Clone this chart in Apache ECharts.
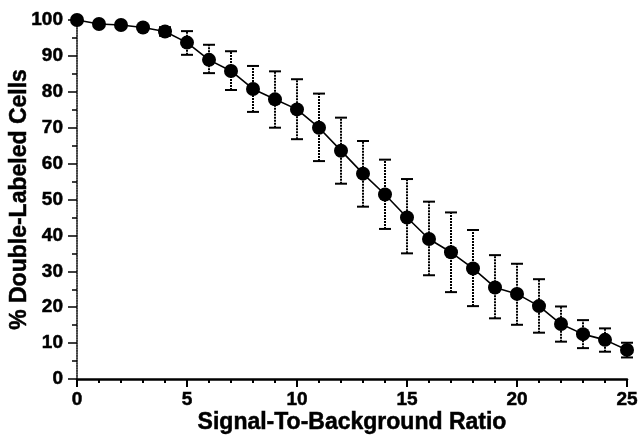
<!DOCTYPE html>
<html>
<head>
<meta charset="utf-8">
<script src="https://cdn.jsdelivr.net/npm/echarts@6/dist/echarts.min.js"></script>
<style>html,body{margin:0;padding:0;background:#fff;}#c{width:640px;height:435px;}</style>
</head>
<body>
<div id="c"></div>
<script>
const ratios = [0,1,2,3,4,5,6,7,8,9,10,11,12,13,14,15,16,17,18,19,20,21,22,23,24,25];
const pctDouble = [100,98.9,98.6,97.9,96.8,93.7,88.9,85.8,80.8,77.9,75.1,70.0,63.6,57.2,51.4,45.0,39.0,35.3,30.8,25.5,23.7,20.3,15.3,12.5,10.9,8.1];
const errLow = [100,98.9,98.6,97.9,95.6,90.3,85.2,80.5,74.4,70.0,66.8,60.7,54.4,48.0,41.8,35.0,28.9,24.2,20.3,16.9,15.1,12.9,10.4,8.6,7.6,6.0];
const errHigh = [100,98.9,98.6,97.9,98.0,96.9,93.1,91.3,87.2,85.7,83.5,79.5,72.8,66.3,61.1,55.7,49.4,46.4,41.5,34.5,32.1,27.8,20.2,16.4,14.1,10.1];
const xTitle = 'Signal-To-Background Ratio';
const yTitle = '% Double-Labeled Cells';

const font = "'Liberation Sans', Arial, sans-serif";
const chart = echarts.init(document.getElementById('c'), null, {renderer: 'canvas'});
const pts = ratios.map((r, i) => [r, pctDouble[i]]);
const errs = ratios.map((r, i) => [r, errLow[i], errHigh[i]]);
const txt = (size) => ({fontFamily: font, fontWeight: 'bold', fontSize: size, color: '#000', textBorderColor: '#000', textBorderWidth: 0.5});

chart.setOption({
  animation: false,
  backgroundColor: '#fff',
  grid: {left: 77, right: 13, top: 20, bottom: 56, containLabel: false, outerBoundsMode: 'none'},
  xAxis: {
    type: 'value', min: 0, max: 25, interval: 5,
    name: xTitle, nameLocation: 'middle', nameGap: 32, nameMoveOverlap: false,
    nameTextStyle: txt(23),
    axisLine: {onZero: false, lineStyle: {color: '#000', width: 2.5}},
    axisTick: {show: true, length: 8, lineStyle: {color: '#000', width: 2}},
    minorTick: {show: true, splitNumber: 5, length: 4, lineStyle: {color: '#000', width: 2}},
    axisLabel: Object.assign({margin: 11}, txt(19)),
    splitLine: {show: false}
  },
  yAxis: {
    type: 'value', min: 0, max: 100, interval: 10,
    name: yTitle, nameLocation: 'middle', nameGap: 46, nameRotate: 90, nameMoveOverlap: false,
    nameTextStyle: txt(23),
    axisLine: {show: true, onZero: false, lineStyle: {color: '#000', width: 1.5, type: [1.5, 1]}},
    axisTick: {show: true, length: 9, lineStyle: {color: '#000', width: 1.5}},
    minorTick: {show: true, splitNumber: 2, length: 5, lineStyle: {color: '#000', width: 1.5}},
    axisLabel: Object.assign({margin: 14}, txt(19)),
    splitLine: {show: false}
  },
  series: [
    {
      type: 'custom',
      data: errs,
      z: 1,
      renderItem: function (params, api) {
        const x = api.value(0);
        const lo = api.coord([x, api.value(1)]);
        const hi = api.coord([x, api.value(2)]);
        const hw = 6;
        return {
          type: 'group',
          children: [
            {type: 'line', shape: {x1: lo[0], y1: lo[1], x2: hi[0], y2: hi[1]}, style: {stroke: '#000', lineWidth: 2, lineDash: [2, 1]}},
            {type: 'line', shape: {x1: lo[0] - hw, y1: lo[1], x2: lo[0] + hw, y2: lo[1]}, style: {stroke: '#000', lineWidth: 2}},
            {type: 'line', shape: {x1: hi[0] - hw, y1: hi[1], x2: hi[0] + hw, y2: hi[1]}, style: {stroke: '#000', lineWidth: 2}}
          ]
        };
      }
    },
    {
      type: 'line',
      data: pts,
      z: 2,
      symbol: 'circle',
      symbolSize: 14,
      showSymbol: true,
      lineStyle: {color: '#000', width: 1.6},
      itemStyle: {color: '#000'}
    }
  ]
});
</script>
</body>
</html>
